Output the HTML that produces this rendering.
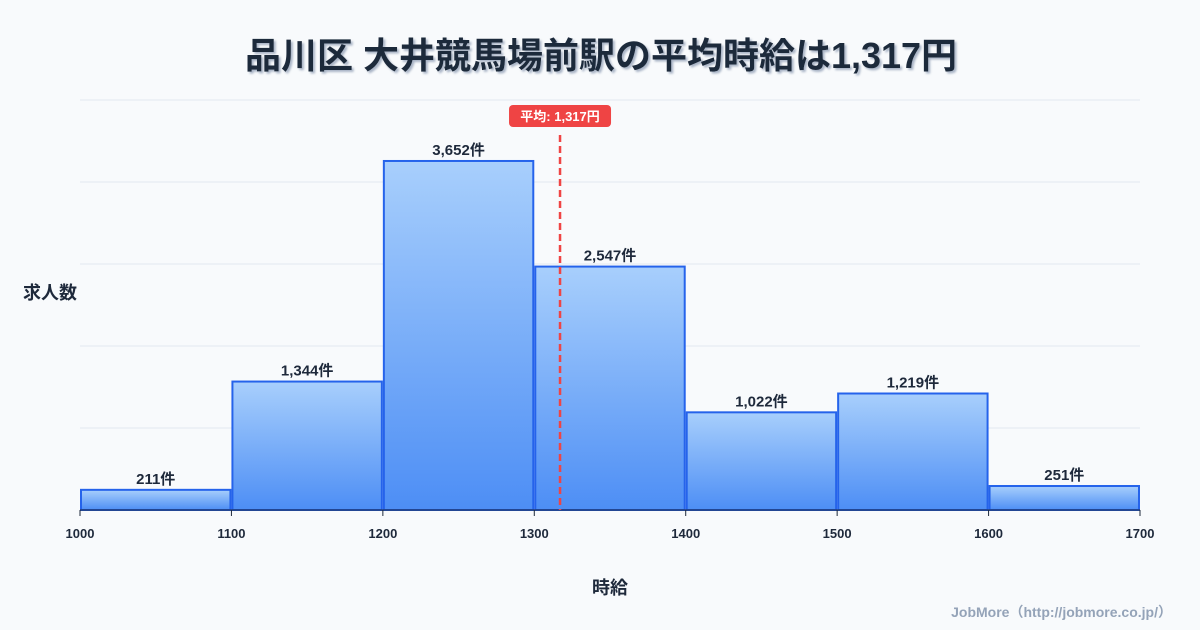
<!DOCTYPE html>
<html><head><meta charset="utf-8"><style>
body{margin:0;background:#f8fafc;font-family:"Liberation Sans","Noto Sans CJK JP",sans-serif;}
</style></head><body>
<svg width="1200" height="630" xmlns="http://www.w3.org/2000/svg" style="display:block">
<defs><linearGradient id="g" x1="0" y1="0" x2="0" y2="1"><stop offset="0" stop-color="#a8cffc"/><stop offset="1" stop-color="#4d8ef5"/></linearGradient>
<filter id="sh"><feDropShadow dx="2" dy="2" stdDeviation="1" flood-color="#94a3b8" flood-opacity="0.8"/></filter></defs>
<rect width="1200" height="630" fill="#f8fafc"/>
<text x="601" y="68" text-anchor="middle" font-size="36" font-weight="bold" fill="#1e293b" filter="url(#sh)">品川区 大井競馬場前駅の平均時給は1,317円</text>
<g id="grid"></g><g id="bars"></g><g id="xt"></g>
<text x="50" y="299" text-anchor="middle" font-size="18" font-weight="bold" fill="#1e293b">求人数</text>
<text x="610" y="594" text-anchor="middle" font-size="18" font-weight="bold" fill="#1e293b">時給</text>
<text x="1172" y="617" text-anchor="end" font-size="14" font-weight="bold" fill="#94a3b8">JobMore（http://jobmore.co.jp/）</text>
<g id="mean"></g>
</svg>
<script>
const binStarts=[1000,1100,1200,1300,1400,1500,1600];
const counts=[211,1344,3652,2547,1022,1219,251];
const xTicks=[1000,1100,1200,1300,1400,1500,1600,1700];
const meanValue=1317;
const yMax=4290;
const NS="http://www.w3.org/2000/svg";
const X=v=>80+(v-1000)*1060/700;
const Y=v=>510-v*410/yMax;
function mk(t,a,p){const e=document.createElementNS(NS,t);for(const k in a)e.setAttribute(k,a[k]);p.appendChild(e);return e;}
const grid=document.getElementById('grid');
for(let i=0;i<=5;i++){const l=mk('line',{x1:80,x2:1140,y1:Y(yMax*i/5),y2:Y(yMax*i/5),stroke:'#e2e8f0','stroke-width':1},grid);

}
const bars=document.getElementById('bars');
binStarts.forEach((b,i)=>{const x0=X(b)+1,x1=X(b+100)-1,y=Y(counts[i]);
const r=mk('rect',{x:x0,y:y,width:x1-x0,height:510-y,fill:'url(#g)',stroke:'#2563eb','stroke-width':2},bars);


const t=mk('text',{x:(x0+x1)/2,y:y-6,'text-anchor':'middle','font-size':15,'font-weight':'bold',fill:'#1e293b'},bars);
t.textContent=counts[i].toLocaleString('en-US')+'件';

});
mk('line',{x1:80,x2:1140,y1:510,y2:510,stroke:'#1e293b','stroke-width':1},bars);
const xt=document.getElementById('xt');
xTicks.forEach(v=>{mk('line',{x1:X(v),x2:X(v),y1:510,y2:516,stroke:'#1e293b'},xt);
const t=mk('text',{x:X(v),y:538,'text-anchor':'middle','font-size':13,'font-weight':'bold',fill:'#1e293b'},xt);t.textContent=v;

});
const m=document.getElementById('mean');const mx=X(meanValue);
const ml=mk('line',{x1:mx,x2:mx,y1:135,y2:510,stroke:'#ef4444','stroke-width':2.5,'stroke-dasharray':'7,4'},m);


const mr=mk('rect',{x:mx-51,y:105,width:102,height:22,rx:4,fill:'#ef4444'},m);


const mt=mk('text',{x:mx,y:121,'text-anchor':'middle','font-size':13,'font-weight':'bold',fill:'#fff'},m);
mt.textContent='平均: '+meanValue.toLocaleString('en-US')+'円';


</script>
</body></html>
